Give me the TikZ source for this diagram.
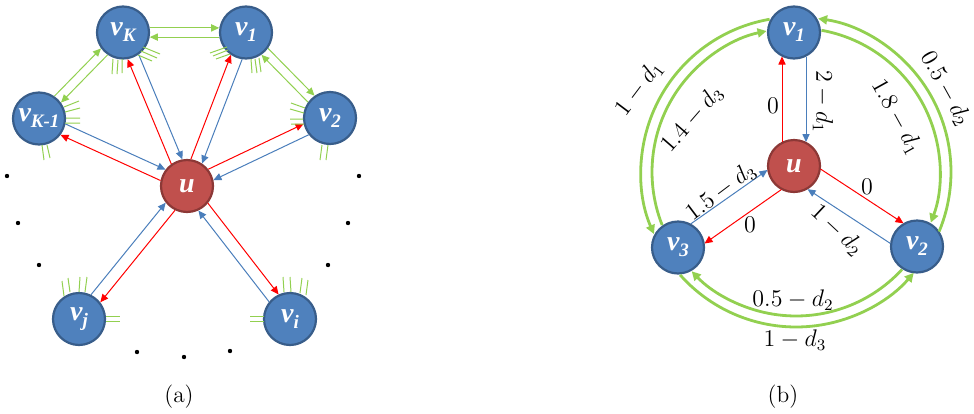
\documentclass[tikz,border=0pt]{standalone}
\usepackage{fontspec}
\usetikzlibrary{arrows.meta,calc}
\newfontfamily\nfont{Liberation Serif}
\definecolor{nblue}{HTML}{4F81BD}
\definecolor{nblueb}{HTML}{385D8A}
\definecolor{nred}{HTML}{C0504D}
\definecolor{nredb}{HTML}{8C3836}
\definecolor{ablue}{HTML}{4A7EBB}
\definecolor{ared}{HTML}{FF0000}
\definecolor{agreen}{HTML}{92D050}
\newcommand{\vlab}[1]{{\nfont\bfseries\itshape\fontsize{14}{14}\selectfont v\raisebox{-3pt}{\fontsize{9.5}{10}\selectfont #1}}}
\newcommand{\ulab}{{\nfont\bfseries\itshape\fontsize{14}{14}\selectfont u}}
\newcommand{\pedge}[5]{\draw[#1, shorten <=#5, shorten >=#5] ($(#2)!#4!90:(#3)$) -- ($(#3)!#4!-90:(#2)$);}
\begin{document}
\begin{tikzpicture}[x=0.5pt,y=0.5pt,
  vnode/.style={circle, fill=nblue, draw=nblueb, line width=1.1pt, minimum size=26pt, inner sep=0pt, text=white},
  unode/.style={vnode, fill=nred, draw=nredb},
  redarr/.style={draw=ared, line width=0.5pt, -{Triangle[length=4pt,width=3.6pt]}},
  bluearr/.style={draw=ablue, line width=0.5pt, -{Triangle[length=4pt,width=3.6pt]}},
  grarr/.style={draw=agreen, line width=0.5pt, -{Triangle[length=4pt,width=3.6pt]}},
  garc/.style={draw=agreen, line width=1.4pt, -{Triangle[length=4.5pt,width=4.5pt]}},
  tickl/.style={draw=agreen, line width=0.5pt},
  lab/.style={font=\fontsize{11.7}{13}\selectfont, inner sep=0.5pt},
  dotm/.style={fill=black}
]
\useasboundingbox (0,0) rectangle (974,-413);

% ---------------- panel (a) ----------------
\node[vnode] (vK)  at (123,-32.5) {\vlab{K}};
\node[vnode] (v1a) at (246,-32.5) {\vlab{1}};
\node[vnode] (vKm) at (39,-118.5) {\vlab{K-1}};
\node[vnode] (v2a) at (330,-118) {\vlab{2}};
\node[unode] (ua)  at (187,-186) {\ulab};
\node[vnode] (vj)  at (79,-319) {\vlab{j}};
\node[vnode] (vi)  at (290,-319) {\vlab{i}};

\foreach \v in {vK,v1a,vKm,v2a,vj,vi}{
  \pedge{redarr}{ua}{\v}{3pt}{13.2pt}
  \pedge{bluearr}{\v}{ua}{3pt}{13.2pt}
}
\pedge{grarr}{vK}{v1a}{2.3pt}{13.4pt}
\pedge{grarr}{v1a}{vK}{2.3pt}{13.4pt}
\pedge{grarr}{vKm}{vK}{2.3pt}{13.4pt}
\pedge{grarr}{vK}{vKm}{2.3pt}{13.4pt}
\pedge{grarr}{v1a}{v2a}{2.3pt}{13.4pt}
\pedge{grarr}{v2a}{v1a}{2.3pt}{13.4pt}

% stubs
\draw[tickl] (143,-47)--(160,-54) (141,-51)--(157,-58) (138,-55)--(152,-61);
\draw[tickl] (113,-59)--(112,-74) (118,-60)--(117,-74) (122,-59)--(122,-73);
\draw[tickl] (227,-47)--(210,-53) (228,-50)--(213,-56) (230,-54)--(216,-59);
\draw[tickl] (251,-59)--(252,-73) (255,-59)--(257,-73) (259,-58)--(261,-72);
\draw[tickl] (64,-107)--(79,-101) (65,-112)--(80,-108) (66,-118)--(80,-118) (65,-123)--(80,-123);
\draw[tickl] (42,-145)--(44,-160) (47,-145)--(50,-158);
\draw[tickl] (305,-108)--(291,-103) (304,-113)--(290,-109) (303,-119)--(290,-119) (304,-124)--(291,-124);
\draw[tickl] (322,-145)--(320,-160) (328,-145)--(326,-160);
\draw[tickl] (64,-296)--(62,-281) (70,-292)--(68,-278) (79,-292)--(80,-277) (85,-292)--(87,-277);
\draw[tickl] (106,-316)--(120,-316) (106,-321)--(120,-321);
\draw[tickl] (284,-292)--(283,-277) (291,-292)--(290,-277) (300,-293)--(302,-278) (306,-295)--(308,-280);
\draw[tickl] (250,-316)--(264,-316) (250,-321)--(264,-321);

% dots
\foreach \p in {(7,-176),(18,-223),(39,-265),(137,-352),(184,-357),(230,-351),(348,-223),(328,-265),(359,-176)}
  \fill[dotm] \p circle (1.1pt);

\node[lab] (capa) at (179,-397) {(a)};

% ---------------- panel (b) ----------------
\node[vnode] (v1b) at (794,-32.5) {\vlab{1}};
\node[unode] (ub)  at (794,-166) {\ulab};
\node[vnode] (v3b) at (678,-247.5) {\vlab{3}};
\node[vnode] (v2b) at (917,-246.5) {\vlab{2}};
\coordinate (C) at (796,-172);

\foreach \v in {v1b,v2b,v3b}{
  \pedge{redarr}{ub}{\v}{6pt}{12pt}
  \pedge{bluearr}{\v}{ub}{6pt}{12pt}
}

\draw[garc] ($(C)+(99.8:77.5pt)$) arc[start angle=99.8, end angle=203.6, radius=77.5pt];
\draw[garc] ($(C)+(201.6:72pt)$) arc[start angle=201.6, end angle=101.8, radius=72pt];
\draw[garc] ($(C)+(-22.6:77.5pt)$) arc[start angle=-22.6, end angle=81.8, radius=77.5pt];
\draw[garc] ($(C)+(79.8:72pt)$) arc[start angle=79.8, end angle=-20.6, radius=72pt];
\draw[garc] ($(C)+(317.4:72pt)$) arc[start angle=317.4, end angle=223.6, radius=72pt];
\draw[garc] ($(C)+(221.6:77.5pt)$) arc[start angle=221.6, end angle=319.4, radius=77.5pt];

\node[lab] (l1) at (773,-106) {$0$};
\node[lab, rotate=-90] (l2) at (823,-102) {$2-d_1$};
\node[lab] (l3) at (867,-187) {$0$};
\node[lab, rotate=-43] (l4) at (837,-230) {$1-d_2$};
\node[lab] (l5) at (750,-225) {$0$};
\node[lab, rotate=37] (l6) at (721,-192) {$1.5-d_3$};
\node[lab, rotate=53] (l7) at (639,-88.5) {$1-d_1$};
\node[lab, rotate=49] (l8) at (692,-119) {$1.4-d_3$};
\node[lab, rotate=-61] (l9) at (945.5,-88.5) {$0.5-d_2$};
\node[lab, rotate=-61] (l10) at (896.5,-117) {$1.8-d_1$};
\node[lab] (l11) at (793,-300) {$0.5-d_2$};
\node[lab] (l12) at (795,-340) {$1-d_3$};

\node[lab] (capb) at (783,-397) {(b)};
\end{tikzpicture}
\end{document}
